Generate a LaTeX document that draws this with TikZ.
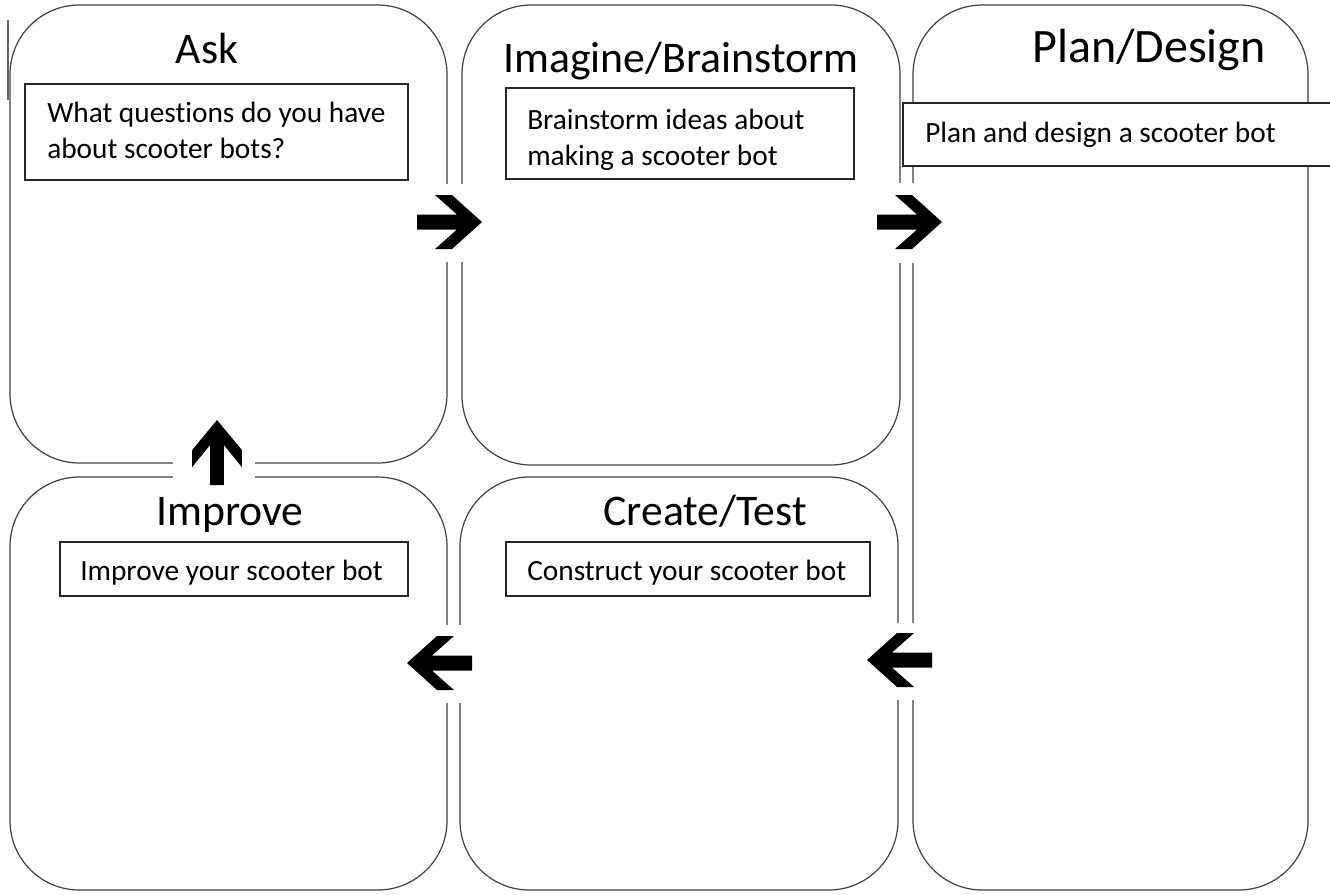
\documentclass[tikz,border=0pt]{standalone}
\usepackage{fontspec}
\setmainfont[Ligatures=NoCommon]{Carlito}

\tikzset{
  panel/.style={draw=black!75, line width=0.9pt, rounded corners=52pt},
  task/.style={draw=black!85, fill=white, line width=1pt},
  heading/.style={font=\fontsize{32.8}{38}\selectfont, anchor=base, inner sep=0pt},
  tasktext/.style={font=\fontsize{22}{27}\selectfont, anchor=base west, align=left, inner sep=0pt},
  gap/.style={fill=white},
  bigarrow/.pic={
    \fill[black] (0,0) -- (-30,-27) -- (-47,-27) -- (-25,-7.5) -- (-65,-7.5)
      -- (-65,7.5) -- (-25,7.5) -- (-47,27) -- (-30,27) -- cycle;
  }
}

\begin{document}
\begin{tikzpicture}[x=0.75pt, y=-0.75pt]
      \useasboundingbox (0,0) rectangle (1330,894);
      % panels
      \draw[panel] (10,5) rectangle (447,463);
      \draw[panel] (462,5) rectangle (900,465);
      \draw[panel] (913,5) rectangle (1308,890);
      \draw[panel] (10,477) rectangle (447,890);
      \draw[panel] (460,477) rectangle (898,890);
      \draw[black!60, line width=0.8pt] (8,20) -- (8,100);
      % headings
      \node[heading] (ask) at (207,63) {Ask};
      \node[heading] (imagine) at (681,72) {Imagine/Brainstorm};
      \node[heading, font=\fontsize{36}{40}\selectfont] (plan) at (1149,62) {Plan/Design};
      \node[heading] (improve) at (230,525) {Improve};
      \node[heading] (create) at (705,525) {Create/Test};
      % task boxes
      \draw[task] (25,84) rectangle (408,180);
      \node[tasktext] (asktext) at (47,158) {What questions do you have\\about scooter bots?};
      \draw[task] (506,88) rectangle (854,179);
      \node[tasktext] (imaginetext) at (527,165) {Brainstorm ideas about\\making a scooter bot};
      \draw[task] (903,103) rectangle (1334,166);
      \node[tasktext] (plantext) at (925,142) {Plan and design a scooter bot};
      \draw[task] (60,542) rectangle (408,596);
      \node[tasktext] (improvetext) at (80,580) {Improve your scooter bot};
      \draw[task] (506,542) rectangle (870,596);
      \node[tasktext] (createtext) at (527,580) {Construct your scooter bot};
      % gaps in the borders
      \fill[gap] (440,184) rectangle (470,262);
      \fill[gap] (893,183) rectangle (920,263);
      \fill[gap] (173,455) rectangle (255,485);
      \fill[gap] (440,625) rectangle (468,703);
      \fill[gap] (890,623) rectangle (920,700);
      % arrows
      \pic at (482,222) {bigarrow};
      \pic at (942,222) {bigarrow};
      \pic[rotate=90, yscale=0.92] at (217,420) {bigarrow};
      \pic[rotate=180] at (407,663) {bigarrow};
      \pic[rotate=180] at (867,660) {bigarrow};
    \end{tikzpicture}
\end{document}
